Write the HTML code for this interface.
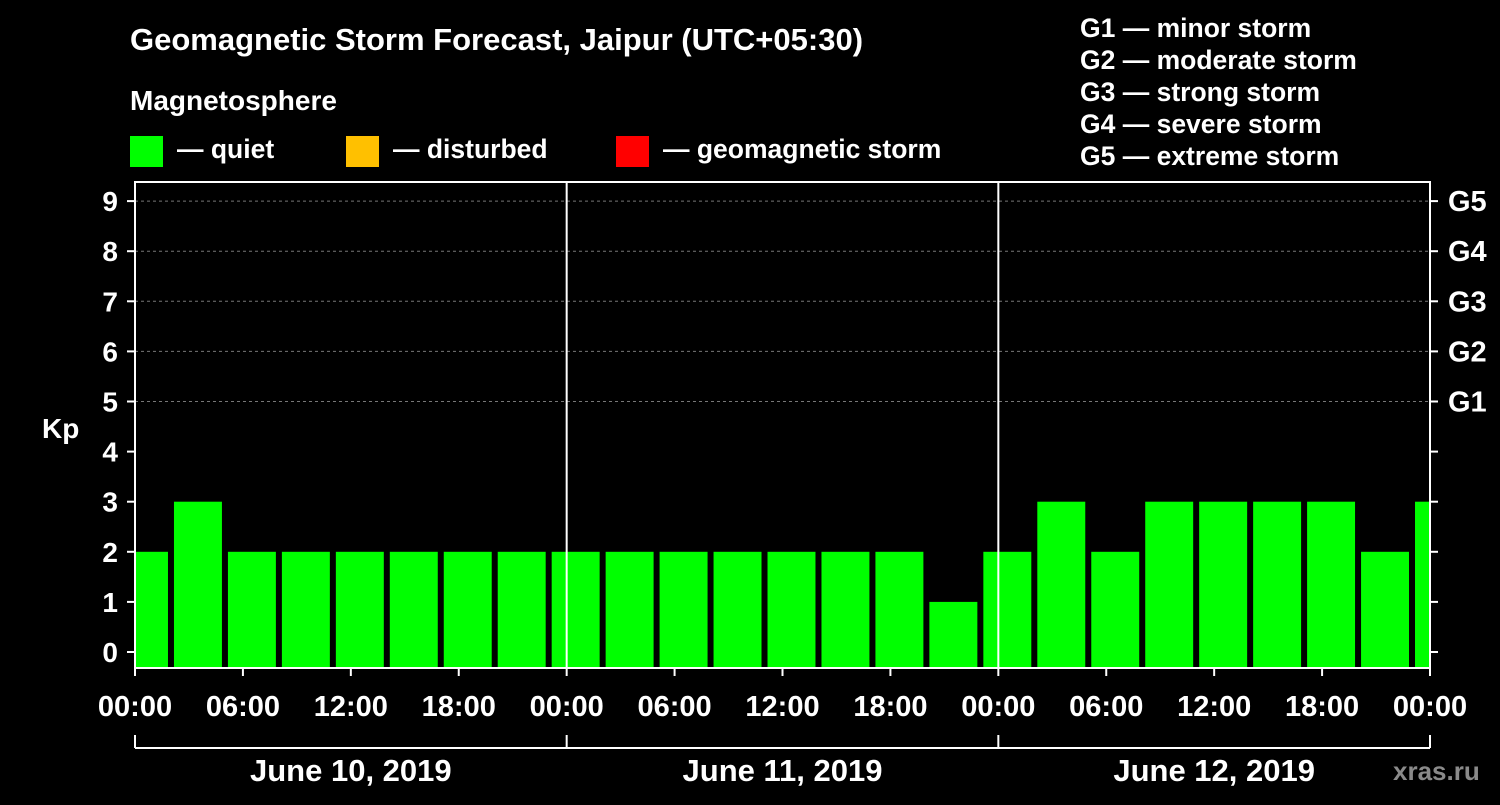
<!DOCTYPE html>
<html><head><meta charset="utf-8"><style>
body{margin:0;background:#000;width:1500px;height:800px;overflow:hidden}
svg text{font-family:"Liberation Sans",sans-serif;font-weight:bold;fill:#fff}
</style></head><body>
<svg id="c" width="1500" height="800">
<text x="130" y="50" font-size="31">Geomagnetic Storm Forecast, Jaipur (UTC+05:30)</text>
<text x="130" y="110" font-size="28">Magnetosphere</text>
<g><rect x="130" y="136" width="33" height="31" fill="#00ff00"/><text x="177" y="158" font-size="26.5">— quiet</text></g>
<g><rect x="346" y="136" width="33" height="31" fill="#ffc000"/><text x="393" y="158" font-size="26.5">— disturbed</text></g>
<g><rect x="616" y="136" width="33" height="31" fill="#ff0000"/><text x="663" y="158" font-size="26.5">— geomagnetic storm</text></g>
<g font-size="26.5">
<text x="1080" y="37">G1 — minor storm</text><text x="1080" y="69">G2 — moderate storm</text><text x="1080" y="101">G3 — strong storm</text><text x="1080" y="133">G4 — severe storm</text><text x="1080" y="165">G5 — extreme storm</text></g>
<text x="42" y="438" font-size="28">Kp</text>
<text x="1393" y="780" font-size="26" style="fill:#8a8a8a">xras.ru</text>
<g id="plot"></g>
</svg>
<script>
const kpValues=[2,3,2,2,2,2,2,2,2,2,2,2,2,2,2,1,2,3,2,3,3,3,3,2,3];
const yTicks=[0,1,2,3,4,5,6,7,8,9];
const gLabels=["G1","G2","G3","G4","G5"];
const xTickLabels=["00:00","06:00","12:00","18:00","00:00","06:00","12:00","18:00","00:00","06:00","12:00","18:00","00:00"];
const dayLabels=["June 10, 2019","June 11, 2019","June 12, 2019"];
const X0=135,X1=1430,HRS=72,OFF=2.0;
const x=h=>X0+(X1-X0)*h/HRS;
const y=k=>652-50.1*k;
const T=182,B=668;
const NS="http://www.w3.org/2000/svg";
const g=document.getElementById('plot');
function mk(t,a){const e=document.createElementNS(NS,t);for(const k in a)e.setAttribute(k,a[k]);g.appendChild(e);return e;}
for(let k=5;k<=9;k++){const l=mk('line',{x1:X0,x2:X1,y1:y(k),y2:y(k),stroke:'#777','stroke-dasharray':'3,3'});

}
kpValues.forEach((v,i)=>{
 const s=x(OFF+3*(i-1)), e=x(OFF+3*i);
 let a=Math.max(X0,s+3), b=Math.min(X1,e-3);
 if(b<=a)return;
 const r=mk('rect',{x:a,y:y(v),width:b-a,height:B-y(v),fill:v>=5?'#ff0000':(v>=4?'#ffc000':'#00ff00')});
 
 
});
const f=mk('rect',{x:X0,y:T,width:X1-X0,height:B-T,fill:'none',stroke:'#fff','stroke-width':2});


[24,48].forEach(h=>{const l=mk('line',{x1:x(h),x2:x(h),y1:T,y2:B,stroke:'#fff','stroke-width':2});

});
yTicks.forEach(k=>{
 mk('line',{x1:X0-8,x2:X0,y1:y(k),y2:y(k),stroke:'#fff','stroke-width':2});
 mk('line',{x1:X1,x2:X1+8,y1:y(k),y2:y(k),stroke:'#fff','stroke-width':2});
 const t=mk('text',{x:118,y:y(k)+10,'font-size':28,'text-anchor':'end'});t.textContent=k;
 
 
});
gLabels.forEach((s,i)=>{const t=mk('text',{x:1448,y:y(5+i)+10,'font-size':29});t.textContent=s;
 
 });
xTickLabels.forEach((s,i)=>{const h=i*6;
 mk('line',{x1:x(h),x2:x(h),y1:B,y2:B+8,stroke:'#fff','stroke-width':2});
 const t=mk('text',{x:x(h),y:716,'font-size':29,'text-anchor':'middle'});t.textContent=s;
 
 });
mk('line',{x1:X0,x2:X1,y1:748,y2:748,stroke:'#fff','stroke-width':2});
[0,24,48,72].forEach(h=>mk('line',{x1:x(h),x2:x(h),y1:735,y2:748,stroke:'#fff','stroke-width':2}));
dayLabels.forEach((s,i)=>{const t=mk('text',{x:x(12+24*i),y:781,'font-size':31,'text-anchor':'middle'});t.textContent=s;
 
 });
</script>
</body></html>
